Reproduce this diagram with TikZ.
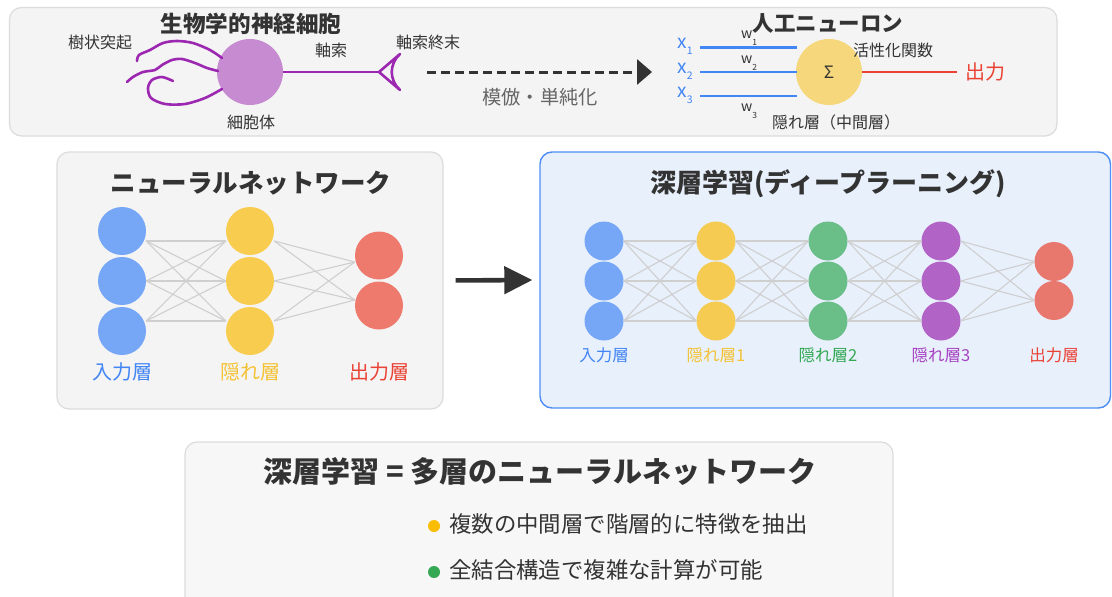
\documentclass[tikz,border=0pt]{standalone}
\usepackage{fontspec}
\setmainfont{Noto Sans CJK JP}
\usetikzlibrary{arrows.meta,calc}

\definecolor{dark}{HTML}{333333}
\definecolor{midgray}{HTML}{666666}
\definecolor{panelf}{HTML}{F4F4F4}
\definecolor{panelb}{HTML}{DCDCDC}
\definecolor{bottomf}{HTML}{F7F7F7}
\definecolor{deepf}{HTML}{E8F0FC}
\definecolor{deepb}{HTML}{4D8EF5}
\definecolor{edgec}{HTML}{CFCFCF}
\definecolor{somac}{HTML}{C68BD0}
\definecolor{purp}{HTML}{9C27B0}
\definecolor{sumc}{HTML}{F6D77C}
\definecolor{gblue}{HTML}{4285F4}
\definecolor{gred}{HTML}{EA4335}
\definecolor{gyellow}{HTML}{F4C234}
\definecolor{ggreen}{HTML}{34A853}
\definecolor{gpurple}{HTML}{A642C2}
\definecolor{bulyel}{HTML}{FBBC04}
\definecolor{nblue}{HTML}{76A7F6}
\definecolor{nyellow}{HTML}{F8CD4F}
\definecolor{nred}{HTML}{EE7A6E}
\definecolor{dyellow}{HTML}{F6CB52}
\definecolor{dgreen}{HTML}{6ABE88}
\definecolor{dpurple}{HTML}{B263C6}
\definecolor{dred}{HTML}{E8776E}

\newcommand\fsz[1]{\fontsize{#1}{#1}\selectfont}

\begin{document}
\begin{tikzpicture}[x=1pt,y=-1pt,
  title/.style={font=\fsz{22.6}\bfseries, text=dark, inner sep=0},
  lab/.style={font=\fsz{16}, text=dark, inner sep=0},
  panel/.style={rounded corners=12pt, draw=panelb, fill=panelf, line width=1.2pt},
  nnode/.style={circle, inner sep=0, minimum size=48pt},
  dnode/.style={circle, inner sep=0, minimum size=39pt},
  edge/.style={draw=edgec, line width=1.1pt},
  dendrite/.style={draw=purp, line width=2.6pt, line cap=round, line join=round},
  inline/.style={draw=gblue, line width=2.6pt},
  bullet/.style={circle, inner sep=0, minimum size=12pt},
  bultext/.style={font=\fsz{22.4}, text=dark, anchor=west, inner sep=0}
]
\useasboundingbox (0,0) rectangle (1112,597);
\clip (0,0) rectangle (1112,597);
\fill[white] (0,0) rectangle (1112,597);

% ---------- top panel: biological neuron and artificial neuron ----------
\node[panel, minimum width=1047.5pt, minimum height=128.5pt, inner sep=0] (toppanel) at (533.25,71.75) {};

% biological neuron
\node[title] (biot) at (251,24) {生物学的神経細胞};
\node[lab] (dendl) at (100,42) {樹状突起};
\node[circle, fill=somac, minimum size=66pt, inner sep=0] (soma) at (250,72) {};
\node[lab] (somal) at (251,122) {細胞体};
\node[lab] (axonl) at (331,50) {軸索};
\node[lab] (terml) at (428,42) {軸索終末};
\coordinate (term) at (379,72);

\draw[dendrite] plot[smooth] coordinates {(137,61) (139,55) (150,50) (163,43) (177,41) (193,43) (210,50) (222,58)};
\draw[dendrite] plot[smooth] coordinates {(127,82) (133,77) (143,72) (155,70) (162,65) (172,60) (182,59) (195,63) (207,68) (218,71)};
\draw[dendrite] plot[smooth] coordinates {(173,81) (162,77) (152,80) (148,88) (151,98) (165,104) (185,104) (205,98) (222,89)};
\draw[purp, line width=2.8pt] (soma.east) -- (term);
\draw[purp, line width=2.6pt, line join=round] (term) -- (400,54) .. controls (389,64) and (389,80) .. (400,90) -- cycle;

% simplification arrow
\coordinate (simpA) at (427,72);
\coordinate (simpB) at (652,72);
\draw[dark, line width=3pt, dash pattern=on 9pt off 5pt, -{Triangle[length=15pt,width=25pt]}] (simpA) -- (simpB);
\node[font=\fsz{19.3}, text=midgray, inner sep=0] (simpl) at (540,97) {模倣・単純化};

% artificial neuron
\node[title, font=\fsz{21.5}\bfseries] (anet) at (828,23) {人工ニューロン};
\node[circle, fill=sumc, minimum size=66pt, inner sep=0, font=\fsz{17}, text=dark] (sum) at (829,72) {Σ};
\foreach \i/\y in {1/47.5,2/72,3/96} {
  \coordinate (in\i) at (700,\y);
  \coordinate (in\i e) at (797,\y);
  \draw[inline] (in\i) -- (in\i e);
  \node[font=\fsz{19}, text=gblue, inner sep=0, anchor=base] (x\i) at (685,\y+1) {x\raisebox{-6pt}{\fsz{10.5}\i}};
}
\node[font=\fsz{14}, text=dark, inner sep=0, anchor=base] (w1) at (749,38.5) {w\raisebox{-7pt}{\fsz{8.5}1}};
\node[font=\fsz{14}, text=dark, inner sep=0, anchor=base] (w2) at (749,63.5) {w\raisebox{-7pt}{\fsz{8.5}2}};
\node[font=\fsz{14}, text=dark, inner sep=0, anchor=base] (w3) at (749,111) {w\raisebox{-7pt}{\fsz{8.5}3}};
\coordinate (outE) at (957,72);
\draw[gred, line width=2.6pt] (sum.east) -- (outE);
\node[font=\fsz{20}, text=gred, inner sep=0] (outl) at (985,72) {出力};
\node[lab] (actl) at (893,50) {活性化関数};
\node[lab] (hidl) at (836,122) {隠れ層（中間層）};

% ---------- neural network panel ----------
\node[panel, minimum width=386pt, minimum height=257pt, inner sep=0] (nnpanel) at (250,280.5) {};
\node[title, font=\fsz{25.5}\bfseries] (nnt) at (251,183.5) {ニューラルネットワーク};
\foreach \j/\y in {1/231,2/281,3/331} {
  \node[nnode, fill=nblue] (a\j) at (122,\y) {};
  \node[nnode, fill=nyellow] (b\j) at (250,\y) {};
}
\node[nnode, fill=nred] (c1) at (379,255.5) {};
\node[nnode, fill=nred] (c2) at (379,305.5) {};
% connection ports on the node rims
\foreach \j/\o in {1/10,2/0,3/-10} {
  \coordinate (a\j r) at ($(a\j.east)+(0,\o)$);
  \coordinate (b\j l) at ($(b\j.west)+(0,\o)$);
  \coordinate (b\j r) at ($(b\j.east)+(0,\o)$);
}
\coordinate (c1l) at ($(c1.west)+(0,6.5)$);
\coordinate (c2l) at ($(c2.west)+(0,-5.5)$);
\foreach \p in {1,2,3} {
  \foreach \q in {1,2,3} \draw[edge] (a\p r) -- (b\q l);
  \foreach \q in {1,2} \draw[edge] (b\p r) -- (c\q l);
}
\node[font=\fsz{20}, text=gblue, inner sep=0] (nnl1) at (122,372) {入力層};
\node[font=\fsz{20}, text=gyellow, inner sep=0] (nnl2) at (250,372) {隠れ層};
\node[font=\fsz{20}, text=gred, inner sep=0] (nnl3) at (379,372) {出力層};

% ---------- deep learning panel ----------
\node[rounded corners=12pt, draw=deepb, fill=deepf, line width=1.4pt, minimum width=570.5pt, minimum height=256pt, inner sep=0] (dpanel) at (825.25,280) {};
\draw[dark, line width=4.6pt, -{Triangle[length=28pt,width=27pt]}, shorten <=12pt, shorten >=7pt] (nnpanel.east) -- (dpanel.west);
\node[title, font=\fsz{26}\bfseries] (dt) at (828,184) {深層学習(ディープラーニング)};
\foreach \x/\c [count=\i] in {604/nblue,716/dyellow,828/dgreen,941/dpurple} {
  \foreach \y [count=\j] in {241,281,321}
    \node[dnode, fill=\c] (d\i-\j) at (\x,\y) {};
}
\node[dnode, fill=dred] (d5-1) at (1054,261.5) {};
\node[dnode, fill=dred] (d5-2) at (1054,300.5) {};
\foreach \i/\k in {1/2,2/3,3/4}
  \foreach \p in {1,2,3}
    \foreach \q in {1,2,3}
      \draw[edge] (d\i-\p.east) -- (d\k-\q.west);
\foreach \p in {1,2,3}
  \foreach \q in {1,2}
    \draw[edge] (d4-\p.east) -- (d5-\q.west);
\node[font=\fsz{16.5}, text=gblue, inner sep=0] (dl1) at (604,355) {入力層};
\node[font=\fsz{16.5}, text=gyellow, inner sep=0] (dl2) at (716,355) {隠れ層1};
\node[font=\fsz{16.5}, text=ggreen, inner sep=0] (dl3) at (828,355) {隠れ層2};
\node[font=\fsz{16.5}, text=gpurple, inner sep=0] (dl4) at (941,355) {隠れ層3};
\node[font=\fsz{16.5}, text=gred, inner sep=0] (dl5) at (1054,355) {出力層};

% ---------- summary panel ----------
\node[rounded corners=12pt, draw=panelb, fill=bottomf, line width=1.2pt, minimum width=708pt, minimum height=180pt, inner sep=0] (sumpanel) at (539,532) {};
\node[title, font=\fsz{29}\bfseries] (sumt) at (540,472) {深層学習 = 多層のニューラルネットワーク};
\node[bullet, fill=bulyel] (dot1) at (434,526) {};
\node[bultext] (bt1) at (449,524) {複数の中間層で階層的に特徴を抽出};
\node[bullet, fill=ggreen] (dot2) at (434,572) {};
\node[bultext] (bt2) at (449,570) {全結合構造で複雑な計算が可能};
\end{tikzpicture}
\end{document}
